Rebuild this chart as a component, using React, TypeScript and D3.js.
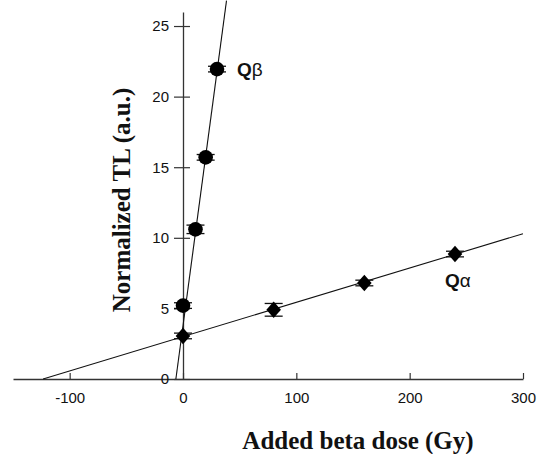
import * as d3 from "d3";
import React, { useRef, useEffect } from "react";

const width = 544;
const height = 454;

// Q-beta (circles)
const betaDose = [0, 11, 20, 30];
const betaTL = [5.2, 10.6, 15.7, 21.95];
const betaErr = [0.2, 0.3, 0.2, 0.2];

// Q-alpha (diamonds)
const alphaDose = [0, 80, 160, 240];
const alphaTL = [3.05, 4.9, 6.8, 8.85];
const alphaErr = [0.2, 0.45, 0.2, 0.2];

// fitted lines: TL = slope * dose + intercept
const betaFit = { slope: 0.6, intercept: 3.77 };
const alphaFit = { slope: 0.0243, intercept: 3.0 };

const xTicks = [-100, 0, 100, 200, 300];
const yTicks = [0, 5, 10, 15, 20, 25];

const axisFont = "'Liberation Sans', Arial, sans-serif";
const titleFont = "'Liberation Serif', 'Times New Roman', serif";

function App() {
  const ref = useRef<SVGSVGElement>(null);

  useEffect(() => {
    const svg = d3.select(ref.current);
    svg.selectAll("*").remove();

    const x = d3.scaleLinear().domain([-150, 300]).range([13, 523]);
    const y = d3.scaleLinear().domain([0, 26]).range([379, 11.9]);

    // x axis
    const xAxis = d3
      .axisBottom(x)
      .tickValues(xTicks)
      .tickFormat((d) => String(d))
      .tickSizeInner(-6)
      .tickSizeOuter(0)
      .tickPadding(13);
    const gx = svg
      .append("g")
      .attr("transform", `translate(0,${y(0)})`)
      .call(xAxis);
    gx.select(".domain").attr("stroke", "#333").attr("stroke-width", 1.3);
    gx.selectAll(".tick line").attr("stroke", "#333").attr("stroke-width", 1.2);
    gx.selectAll(".tick text")
      .attr("fill", "#111")
      .style("font-family", axisFont)
      .style("font-size", "15px");

    // y axis
    const yAxis = d3
      .axisLeft(y)
      .tickValues(yTicks)
      .tickFormat((d) => String(d))
      .tickSizeInner(9)
      .tickSizeOuter(0)
      .tickPadding(5);
    const gy = svg
      .append("g")
      .attr("transform", `translate(${x(0)},0)`)
      .call(yAxis);
    gy.select(".domain").attr("stroke", "#333").attr("stroke-width", 1.3);
    gy.selectAll(".tick line")
      .attr("stroke", "#333")
      .attr("stroke-width", 1.2)
      .attr("x1", 7);
    gy.selectAll(".tick text")
      .attr("fill", "#111")
      .style("font-family", axisFont)
      .style("font-size", "15px");

    // fit lines
    const line = d3
      .line<[number, number]>()
      .x((d) => x(d[0]))
      .y((d) => y(d[1]));

    const alphaStart = -alphaFit.intercept / alphaFit.slope;
    const alphaLine: [number, number][] = [
      [alphaStart, 0],
      [300, alphaFit.slope * 300 + alphaFit.intercept],
    ];
    const betaStart = -betaFit.intercept / betaFit.slope;
    const betaTop = 26.8;
    const betaLine: [number, number][] = [
      [betaStart, 0],
      [(betaTop - betaFit.intercept) / betaFit.slope, betaTop],
    ];

    svg
      .selectAll(".fit")
      .data([alphaLine, betaLine])
      .join("path")
      .classed("fit", true)
      .attr("d", (d) => line(d))
      .attr("fill", "none")
      .attr("stroke", "#111")
      .attr("stroke-width", 1.1);

    // error bars
    const drawErr = (cls: string, xs: number[], ys: number[], es: number[]) => {
      const data = xs.map((d, i) => ({ x: d, y: ys[i], e: es[i] }));
      const g = svg.append("g").attr("class", cls);
      g.selectAll("line.v")
        .data(data)
        .join("line")
        .attr("class", "v")
        .attr("x1", (d) => x(d.x))
        .attr("x2", (d) => x(d.x))
        .attr("y1", (d) => y(d.y + d.e))
        .attr("y2", (d) => y(d.y - d.e))
        .attr("stroke", "#111")
        .attr("stroke-width", 1.2);
      g.selectAll("line.cap")
        .data(data.flatMap((d) => [{ x: d.x, y: d.y + d.e }, { x: d.x, y: d.y - d.e }]))
        .join("line")
        .attr("class", "cap")
        .attr("x1", (d) => x(d.x) - 9)
        .attr("x2", (d) => x(d.x) + 9)
        .attr("y1", (d) => y(d.y))
        .attr("y2", (d) => y(d.y))
        .attr("stroke", "#111")
        .attr("stroke-width", 1.3);
    };
    drawErr("beta-err", betaDose, betaTL, betaErr);
    drawErr("alpha-err", alphaDose, alphaTL, alphaErr);

    // markers
    svg
      .selectAll(".beta-pt")
      .data(betaDose.map((d, i) => [d, betaTL[i]]))
      .join("circle")
      .classed("beta-pt", true)
      .attr("cx", (d) => x(d[0]))
      .attr("cy", (d) => y(d[1]))
      .attr("r", 7.3)
      .attr("fill", "#000");

    const diamond = d3.symbol().type(d3.symbolDiamond2).size(150);
    svg
      .selectAll(".alpha-pt")
      .data(alphaDose.map((d, i) => [d, alphaTL[i]]))
      .join("path")
      .classed("alpha-pt", true)
      .attr("d", diamond)
      .attr("transform", (d) => `translate(${x(d[0])},${y(d[1])}) scale(0.95,1.08)`)
      .attr("fill", "#000");

    // series labels
    const nb = betaDose.length - 1;
    const lb = svg
      .append("text")
      .attr("x", x(betaDose[nb]) + 20)
      .attr("y", y(betaTL[nb]) + 7)
      .style("font-family", axisFont)
      .style("font-size", "19px")
      .attr("fill", "#111");
    lb.append("tspan").attr("font-weight", "bold").text("Q");
    lb.append("tspan").text("β");

    const na = alphaDose.length - 1;
    const la = svg
      .append("text")
      .attr("x", x(alphaDose[na]) - 10)
      .attr("y", y(alphaTL[na]) + 33)
      .style("font-family", axisFont)
      .style("font-size", "19px")
      .attr("fill", "#111");
    la.append("tspan").attr("font-weight", "bold").text("Q");
    la.append("tspan").text("α");

    // axis titles
    svg
      .append("text")
      .attr("x", 358)
      .attr("y", 449)
      .attr("text-anchor", "middle")
      .style("font-family", titleFont)
      .style("font-size", "25px")
      .style("font-weight", "bold")
      .attr("fill", "#111")
      .text("Added beta dose (Gy)");

    svg
      .append("text")
      .attr("transform", `translate(130,${200}) rotate(-90)`)
      .attr("text-anchor", "middle")
      .style("font-family", titleFont)
      .style("font-size", "25px")
      .style("font-weight", "bold")
      .attr("fill", "#111")
      .text("Normalized TL (a.u.)");
  }, []);

  return (
    <svg
      ref={ref}
      width={width}
      height={height}
      style={{ position: "absolute", left: 0, top: 0, background: "#fff" }}
    ></svg>
  );
}

export default App;
